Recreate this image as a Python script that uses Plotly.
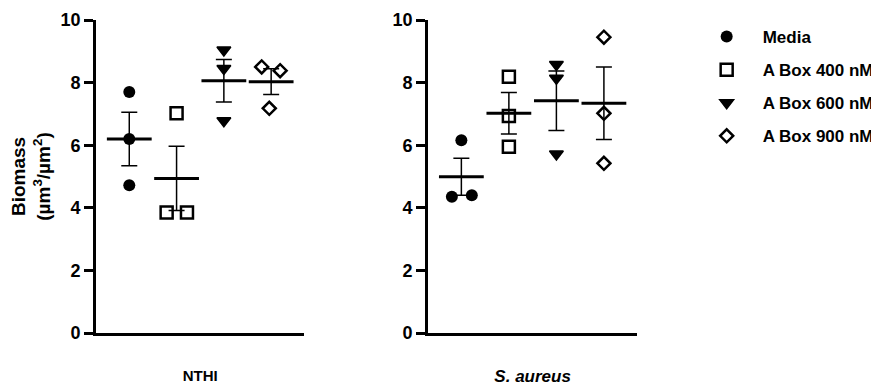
import plotly.graph_objects as go

# the page puts the figure 8 px in from the window's top-left corner
OFF = 8
W, H = 879 - OFF, 391 - OFF

groups = ["Media", "A Box 400 nM", "A Box 600 nM", "A Box 900 nM"]
panels = ["NTHI", "S. aureus"]
yticks = [0, 2, 4, 6, 8, 10]

# replicate values
nthi_vals = [
    [7.70, 6.20, 4.72],
    [7.02, 3.85, 3.85],
    [9.04, 8.45, 6.78],
    [8.50, 8.38, 7.18],
]
sa_vals = [
    [6.16, 4.35, 4.40],
    [8.19, 6.93, 5.95],
    [8.58, 8.14, 5.72],
    [9.45, 7.02, 5.42],
]
# horizontal scatter of replicates (category units)
nthi_jit = [[0, 0, 0], [0, -0.21, 0.22], [0, 0, 0], [-0.2, 0.19, -0.04]]
sa_jit = [[0, -0.2, 0.22], [0, 0, 0], [0, 0, 0], [0, 0, 0]]

# mean and SEM
nthi_mean = [6.20, 4.94, 8.06, 8.03]
nthi_sem = [0.855, 1.03, 0.68, 0.41]
sa_mean = [4.99, 7.02, 7.42, 7.34]
sa_sem = [0.59, 0.66, 0.95, 1.16]

symbols = ["circle", "square-open", "triangle-down", "diamond-open"]
sizes = [12, 12, 12, 10]
lws = [0, 2.5, 1.5, 2.5]

FONT = "Liberation Sans, Arial, sans-serif"

fig = go.Figure()

panel_data = [
    (nthi_vals, nthi_jit, nthi_mean, nthi_sem, "x", "y"),
    (sa_vals, sa_jit, sa_mean, sa_sem, "x2", "y2"),
]

for p, (vals, jit, means, sems, xa, ya) in enumerate(panel_data):
    cats = list(range(len(groups)))
    # error bars
    fig.add_trace(go.Scatter(
        x=cats, y=means, mode="markers", xaxis=xa, yaxis=ya,
        marker=dict(size=1, color="rgba(0,0,0,0)"),
        error_y=dict(type="data", array=sems, visible=True,
                     width=8, thickness=1.5, color="black"),
        showlegend=False, hoverinfo="skip"))
    # mean lines
    fig.add_trace(go.Scatter(
        x=cats, y=means, mode="markers", xaxis=xa, yaxis=ya,
        marker=dict(symbol="line-ew", size=32, color="black",
                    line=dict(width=3, color="black")),
        showlegend=False, hoverinfo="skip"))
    for g, name in enumerate(groups):
        fig.add_trace(go.Scatter(
            x=[g + j for j in jit[g]], y=vals[g], mode="markers",
            xaxis=xa, yaxis=ya, name=name, legendgroup=name,
            showlegend=(p == 0),
            marker=dict(symbol=symbols[g], size=sizes[g], color="black",
                        line=dict(width=lws[g], color="black"))))

def px_x(v):
    return (v - OFF) / W

def px_y(v):
    return 1 - (v - OFF) / H

axis_common = dict(showline=True, linecolor="black", linewidth=3,
                   showgrid=False, zeroline=False, automargin=False)

fig.update_layout(
    template="none",
    width=W, height=H,
    margin=dict(l=0, r=0, t=0, b=0, pad=0),
    paper_bgcolor="white", plot_bgcolor="white",
    font=dict(family=FONT, color="black", size=15, weight="bold"),
    xaxis=dict(domain=[px_x(97), px_x(307)], range=[-0.7, 3.7],
               showticklabels=False, ticks="", anchor="y",
               title=dict(text=panels[0], standoff=36,
                          font=dict(size=15, weight="bold")),
               **axis_common),
    yaxis=dict(domain=[px_y(333), px_y(20)], range=[0, 10],
               tickvals=yticks, ticks="outside", ticklen=9, tickwidth=2.5,
               tickcolor="black", anchor="x",
               tickfont=dict(size=18, weight="bold"),
               title=dict(text="Biomass<br>(µm<sup>3</sup>/µm<sup>2</sup>)",
                          standoff=6, font=dict(size=19, weight="bold")),
               **axis_common),
    xaxis2=dict(domain=[px_x(432), px_x(643)], range=[-0.7, 3.7],
                showticklabels=False, ticks="", anchor="y2",
                title=dict(text=panels[1], standoff=36,
                           font=dict(size=17, weight="bold", style="italic")),
                **axis_common),
    yaxis2=dict(domain=[px_y(333), px_y(20)], range=[0, 10],
                tickvals=yticks, ticks="outside", ticklen=9, tickwidth=2.5,
                tickcolor="black", anchor="x2",
                tickfont=dict(size=18, weight="bold"),
                **axis_common),
    legend=dict(x=px_x(697), y=px_y(19), xanchor="left", yanchor="top",
                font=dict(size=17, weight="bold"), tracegroupgap=8,
                itemwidth=62, bgcolor="rgba(0,0,0,0)"),
)

fig.write_html("out.html")
